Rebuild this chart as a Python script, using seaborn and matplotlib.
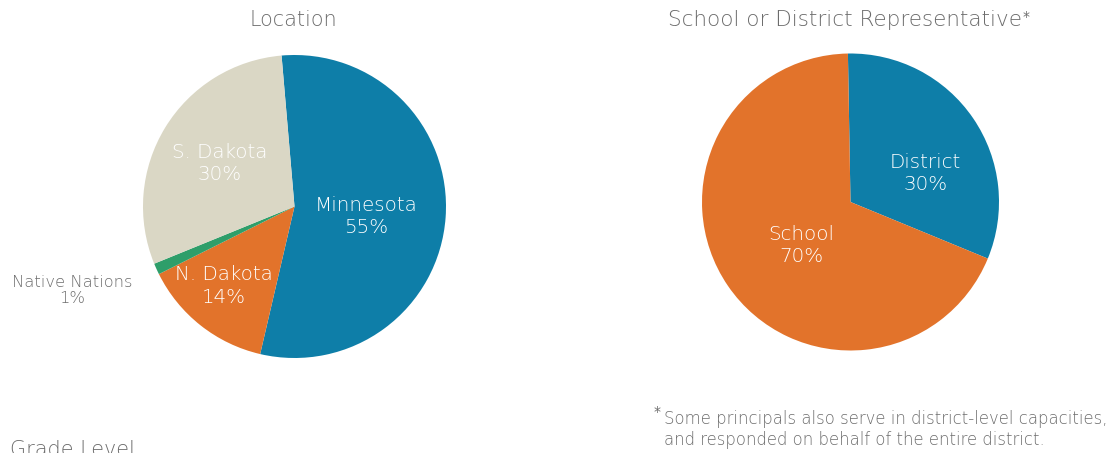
import matplotlib
matplotlib.use("Agg")
import matplotlib.pyplot as plt
import seaborn as sns
import numpy as np

# ---- data ----
loc_names = ["Minnesota", "N. Dakota", "Native Nations", "S. Dakota"]
loc_values = [55, 14, 1.2, 29.8]
loc_pct = ["55%", "14%", "1%", "30%"]
rep_names = ["District", "School"]
rep_values = [31.5, 68.5]
rep_pct = ["30%", "70%"]
title_left = "Location"
title_right = "School or District Representative"
footnote = ("Some principals also serve in district-level capacities,\n"
            "and responded on behalf of the entire district.")
next_heading = "Grade Level"

sns.set_theme(style="white")
plt.rcParams["font.family"] = ["DejaVu Sans"]

BLUE = "#0E7EA8"
ORANGE = "#E2732B"
BEIGE = "#DAD7C5"
GREEN = "#2E9E6A"
GRAY = "#6c6c6c"
WHITE = "#FFFFFF"
FW = "light"

W, H = 1116, 453
fig = plt.figure(figsize=(W / 100, H / 100), dpi=100)
fig.patch.set_facecolor("white")
renderer = fig.canvas.get_renderer()


def size_for(s, target_px, base=14):
    t = fig.text(0, 0, s, fontsize=base, fontweight=FW)
    w = t.get_window_extent(renderer).width
    t.remove()
    return base * target_px / w


LABEL_FS = size_for("Minnesota", 103)
SMALL_FS = size_for("Native Nations", 121)
TITLE_FS = size_for(title_left, 88)
TITLE2_FS = size_for(title_right, 355)
FOOT_FS = size_for(footnote.split("\n")[0], 445)
HEAD_FS = size_for(next_heading, 125)


def pie_axes(cx, cy, r):
    return fig.add_axes([(cx - r) / W, (H - cy - r) / H, 2 * r / W, 2 * r / H])


def draw_pie(ax, values, colors, start, names, pcts, pos, tcolors, sizes, lsp):
    ax.pie(values, colors=colors, startangle=start, counterclock=False,
           radius=1, wedgeprops=dict(linewidth=0, antialiased=True))
    ax.set_xlim(-1, 1)
    ax.set_ylim(-1, 1)
    ax.set_aspect("equal")
    ax.axis("off")
    for n, p, (d, a), c, s, ls in zip(names, pcts, pos, tcolors, sizes, lsp):
        t = np.deg2rad(a)
        ax.text(d * np.cos(t), d * np.sin(t), f"{n}\n{p}", ha="center", va="center",
                color=c, fontsize=s, linespacing=ls, clip_on=False, fontweight=FW)


# Location pie
ax1 = pie_axes(294.5, 206.5, 151.5)
draw_pie(ax1, loc_values, [BLUE, ORANGE, GREEN, BEIGE], 94.9, loc_names, loc_pct,
         [(0.48, -8.0), (0.70, -131.5), (1.57, -159.3), (0.57, 150.0)],
         [WHITE, WHITE, GRAY, WHITE], [LABEL_FS, LABEL_FS, SMALL_FS, LABEL_FS],
         [1.22, 1.22, 1.15, 1.22])

# Representative pie
ax2 = pie_axes(850.5, 202, 148.5)
draw_pie(ax2, rep_values, [BLUE, ORANGE], 91, rep_names, rep_pct,
         [(0.54, 21.0), (0.44, -138.5)], [WHITE, WHITE], [LABEL_FS, LABEL_FS],
         [1.22, 1.22])

# titles
fig.text(293 / W, 1 - 19.5 / H, title_left, ha="center", va="center", color=GRAY,
         fontsize=TITLE_FS, fontweight=FW)
t2 = fig.text(844.5 / W, 1 - 20.5 / H, title_right, ha="center",
              va="center", color=GRAY, fontsize=TITLE2_FS, fontweight=FW)
bb = t2.get_window_extent(renderer)
fig.text(bb.x1 / W + 0.0005, 1 - 17 / H, "*", ha="left", va="center", color=GRAY, fontsize=10)

# footnote
fig.text(654 / W, 1 - 412 / H, "*", ha="left", va="center", color=GRAY, fontsize=10)
fig.text(664 / W, 1 - 429.5 / H, footnote,
         ha="left", va="center", color=GRAY, fontsize=FOOT_FS, linespacing=1.18, fontweight=FW)

# next section heading (cut off at the bottom, as in the source page)
fig.text(10 / W, 1 - 440 / H, next_heading, ha="left", va="top", color=GRAY,
         fontsize=HEAD_FS, fontweight=FW)

fig.savefig("out.png", dpi=100, facecolor="white")
